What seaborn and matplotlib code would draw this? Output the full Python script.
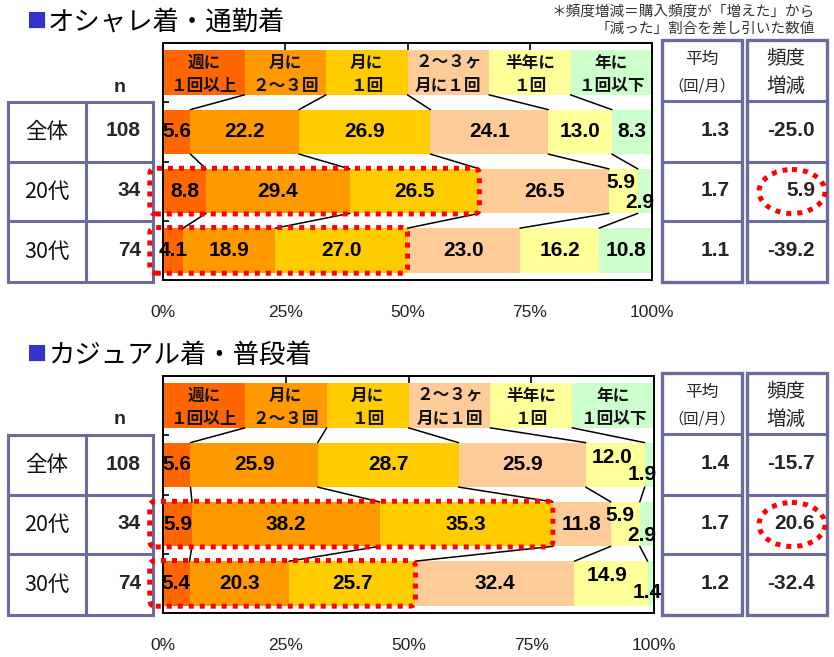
import numpy as np
import pandas as pd
import matplotlib
matplotlib.use('Agg')
import matplotlib.pyplot as plt
import seaborn as sns
from matplotlib.patches import FancyBboxPatch, Ellipse, Rectangle
from matplotlib.transforms import IdentityTransform

sns.set_theme(style='white')
JP = ['Noto Sans CJK JP', 'DejaVu Sans']
NUM = ['Liberation Sans', 'Noto Sans CJK JP']
plt.rcParams['font.family'] = JP

# ---------------- data ----------------
categories = ['週に\n１回以上', '月に\n２〜３回', '月に\n１回',
              '２〜３ヶ\n月に１回', '半年に\n１回', '年に\n１回以下']
colors = ['#FF6600', '#FF9900', '#FFCC00', '#FFCC99', '#FFFF99', '#CCFFCC']
groups = ['全体', '20代', '30代']
ns = [108, 34, 74]

titles = ['オシャレ着・通勤着', 'カジュアル着・普段着']

office_zentai = [5.6, 22.2, 26.9, 24.1, 13.0, 8.3]
office_20s = [8.8, 29.4, 26.5, 26.5, 5.9, 2.9]
office_30s = [4.1, 18.9, 27.0, 23.0, 16.2, 10.8]
office_avg = [1.3, 1.7, 1.1]
office_change = [-25.0, 5.9, -39.2]

casual_zentai = [5.6, 25.9, 28.7, 25.9, 12.0, 1.9]
casual_20s = [5.9, 38.2, 35.3, 11.8, 5.9, 2.9]
casual_30s = [5.4, 20.3, 25.7, 32.4, 14.9, 1.4]
casual_avg = [1.4, 1.7, 1.2]
casual_change = [-15.7, 20.6, -32.4]

xticks = [0, 25, 50, 75, 100]
xticklabels = ['0%', '25%', '50%', '75%', '100%']

note_lines = ['＊頻度増減＝購入頻度が「増えた」から', '「減った」割合を差し引いた数値']
avg_header = ['平均', '（回/月）']
chg_header = ['頻度', '増減']

# ---------------- layout / style ----------------
W, H = 834, 657
TABLE_C = '#6B6B9E'
HEADER_SHARE = [100 / 6] * 6          # legend row: equal-width cells
BAR_H = 0.75
HIGHLIGHT_NCAT = 3                    # first three categories boxed
HIGHLIGHT_ROWS = [2, 3]               # 20代, 30代
CIRCLED_ROW = 2
# label offsets (dx in %, dy in row units) for crowded small segments
label_offsets = [
    {(2, 4): (-0.6, -0.14), (2, 5): (-1.0, 0.2)},
    {(1, 4): (-0.6, -0.12), (1, 5): (-1.4, 0.17),
     (2, 4): (-1.0, -0.15), (2, 5): (-1.0, 0.19),
     (3, 4): (-0.8, -0.14), (3, 5): (-0.8, 0.15)},
]

panels = [
    dict(title=titles[0], rows=[office_zentai, office_20s, office_30s],
         avg=office_avg, chg=office_change, dy=0, axw=489),
    dict(title=titles[1], rows=[casual_zentai, casual_20s, casual_30s],
         avg=casual_avg, chg=casual_change, dy=333, axw=491),
]

fig = plt.figure(figsize=(W / 100, H / 100), dpi=100)
fig.patch.set_facecolor('white')
ov = fig.add_axes([0, 0, 1, 1], zorder=-1)
ov.set_xlim(0, W)
ov.set_ylim(H, 0)
ov.axis('off')

ov.text(815, 12, note_lines[0], ha='right', va='center', fontsize=10.5, color='#333333')
ov.text(815, 29, note_lines[1], ha='right', va='center', fontsize=10.5, color='#333333')

order = ['凡例'] + groups

for pi, P in enumerate(panels):
    dy = P['dy']
    top, bottom = 43 + dy, 280 + dy
    ax = fig.add_axes([163 / W, 1 - bottom / H, P['axw'] / W, (bottom - top) / H])
    ax.set_facecolor('white')

    data = [HEADER_SHARE] + P['rows']
    recs = []
    for name, vals in zip(order, data):
        cum = np.cumsum(vals)
        for ci, c in enumerate(cum):
            recs.append(dict(row=name, cat=ci, cum=c))
    df = pd.DataFrame(recs)
    for ci in reversed(range(6)):
        sns.barplot(data=df[df['cat'] == ci], x='cum', y='row', order=order,
                    color=colors[ci], saturation=1, width=BAR_H, linewidth=0,
                    errorbar=None, orient='h', ax=ax)

    ax.set_xlim(0, 100)
    ax.set_ylim(3.5, -0.5)
    ax.set_xlabel('')
    ax.set_ylabel('')
    ax.set_xticks(xticks)
    ax.set_xticklabels(xticklabels, fontsize=12.5, color='#222222', family=NUM)
    ax.set_yticks([])
    ax.set_yticks([0.5, 1.5, 2.5], minor=True)
    ax.tick_params(axis='x', bottom=False, top=True, labelbottom=True,
                   direction='in', length=5, width=1.2, color='black', pad=18)
    ax.tick_params(axis='y', which='minor', left=True, direction='in',
                   length=4, width=1.2, color='black')
    for s in ax.spines.values():
        s.set_visible(True)
        s.set_color('black')
        s.set_linewidth(1.4)

    # header labels
    hcum = np.cumsum(HEADER_SHARE)
    for ci, lab in enumerate(categories):
        cx = hcum[ci] - HEADER_SHARE[ci] / 2
        l1, l2 = lab.split('\n')
        ax.text(cx, -0.17, l1, ha='center', va='center', fontsize=12,
                fontweight='bold', color='#111111')
        ax.text(cx, 0.23, l2, ha='center', va='center', fontsize=12,
                fontweight='bold', color='#111111')

    # value labels
    offs = label_offsets[pi]
    for ri, vals in enumerate(P['rows'], start=1):
        cum = np.cumsum(vals)
        for ci, v in enumerate(vals):
            cx = cum[ci] - v / 2
            ddx, ddy = offs.get((ri, ci), (0, 0))
            ax.text(cx + ddx, ri + ddy, f'{v:.1f}', ha='center', va='center',
                    fontsize=15, fontweight='bold', family=NUM, color='black',
                    clip_on=False, zorder=5)

    # connecting lines
    cums = [np.cumsum(d) for d in data]
    for k in range(5):
        for r in range(3):
            ax.plot([cums[r][k], cums[r + 1][k]],
                    [r + BAR_H / 2, r + 1 - BAR_H / 2],
                    color='black', lw=1.1, zorder=4)

    # dotted highlight boxes
    for r in HIGHLIGHT_ROWS:
        cum = np.cumsum(P['rows'][r - 1])
        p0 = ax.transData.transform((-2.7, r - 0.385))
        p1 = ax.transData.transform((cum[HIGHLIGHT_NCAT - 1], r + 0.385))
        x0, x1 = min(p0[0], p1[0]), max(p0[0], p1[0])
        y0, y1 = min(p0[1], p1[1]), max(p0[1], p1[1])
        box = FancyBboxPatch((x0, y0), x1 - x0, y1 - y0,
                             boxstyle='round,pad=0,rounding_size=6',
                             transform=IdentityTransform(), fill=False,
                             edgecolor='#FF0000', lw=3.6,
                             linestyle=(0, (1, 1.2)), zorder=10)
        fig.add_artist(box)

    # ---- title ----
    ov.text(27, 22 + dy, '■', ha='left', va='center', fontsize=14.5, color='#3333CC')
    ov.text(48, 22 + dy, P['title'], ha='left', va='center', fontsize=19, color='black')

    # ---- left table ----
    rows_y = [102 + dy, 162 + dy, 221 + dy, 282 + dy]
    ov.add_patch(Rectangle((8, rows_y[0]), 145, rows_y[-1] - rows_y[0], fill=False,
                           edgecolor=TABLE_C, lw=2.2))
    ov.plot([86, 86], [rows_y[0], rows_y[-1]], color=TABLE_C, lw=2.2)
    for yy in rows_y[1:-1]:
        ov.plot([8, 153], [yy, yy], color=TABLE_C, lw=2.2)
    ov.text(120, 87 + dy, 'n', ha='center', va='center', fontsize=14,
            fontweight='bold', family=NUM)
    for i, (g, n) in enumerate(zip(groups, ns)):
        cy = (rows_y[i] + rows_y[i + 1]) / 2
        ov.text(47, cy, g, ha='center', va='center', fontsize=15.5, color='#111111')
        ov.text(141, cy - 1, str(n), ha='right', va='center', fontsize=15,
                fontweight='bold', family=NUM)

    # ---- right table ----
    rt = [40 + dy, 101 + dy, 162 + dy, 221 + dy, 282 + dy]
    for bx0, bx1 in [(662, 742), (747, 827)]:
        ov.add_patch(Rectangle((bx0, rt[0]), bx1 - bx0, rt[-1] - rt[0], fill=False,
                               edgecolor=TABLE_C, lw=2.4))
        for yy in rt[1:-1]:
            ov.plot([bx0, bx1], [yy, yy], color=TABLE_C, lw=2.2)
    ov.text(702, 59 + dy, avg_header[0], ha='center', va='center', fontsize=12)
    ov.text(702, 86 + dy, avg_header[1], ha='center', va='center', fontsize=11)
    ov.text(786, 59 + dy, chg_header[0], ha='center', va='center', fontsize=14)
    ov.text(786, 86 + dy, chg_header[1], ha='center', va='center', fontsize=14)
    for i, (a, c) in enumerate(zip(P['avg'], P['chg'])):
        cy = (rt[i + 1] + rt[i + 2]) / 2 - 1
        ov.text(730, cy, f'{a:.1f}', ha='right', va='center', fontsize=15,
                fontweight='bold', family=NUM)
        ov.text(815, cy, f'{c:.1f}', ha='right', va='center', fontsize=15,
                fontweight='bold', family=NUM)
        if i + 1 == CIRCLED_ROW:
            ov.add_patch(Ellipse((792, cy + 1), 66, 44, fill=False,
                                 edgecolor='#FF0000', lw=3.6,
                                 linestyle=(0, (1, 1.2)), zorder=10))

fig.savefig('out.png', dpi=100, facecolor='white')
